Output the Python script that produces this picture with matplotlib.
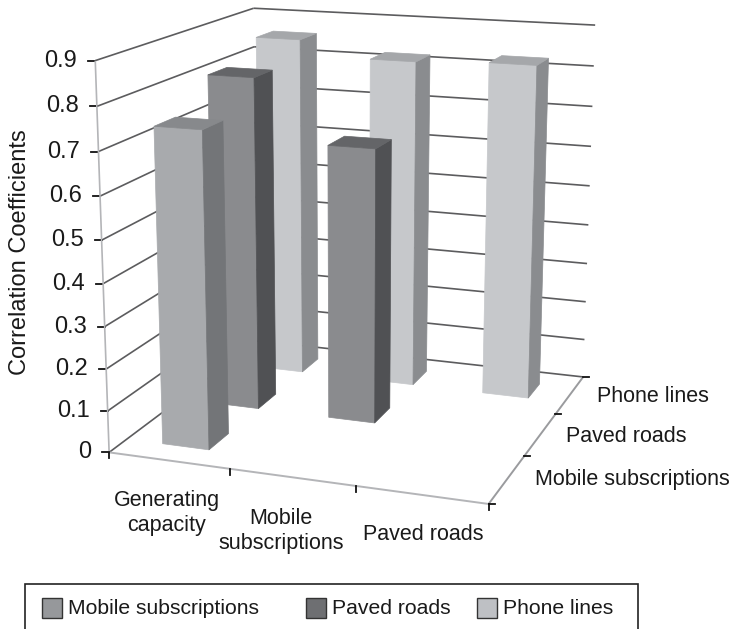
import numpy as np
import matplotlib
matplotlib.use("Agg")
import matplotlib.pyplot as plt
from matplotlib.patches import Polygon, Rectangle

plt.rcParams["font.family"] = ["Liberation Sans", "DejaVu Sans"]

# data
categories = ["Generating\ncapacity", "Mobile\nsubscriptions", "Paved roads"]
series_names = ["Mobile subscriptions", "Paved roads", "Phone lines"]
mobile_values = [0.745, None, None]
paved_values = [0.812, 0.665, None]
phone_values = [0.858, 0.82, 0.828]
z_ticks = [0, 0.1, 0.2, 0.3, 0.4, 0.5, 0.6, 0.7, 0.8, 0.9]
z_labels = ["0", "0.1", "0.2", "0.3", "0.4", "0.5", "0.6", "0.7", "0.8", "0.9"]

# face colours per series: front, side, top
face_colors = [("#a8aaad", "#737578", "#87898c"),
               ("#8a8b8e", "#505154", "#646568"),
               ("#c6c8cb", "#8a8c8f", "#a5a7aa")]
legend_colors = ["#96989b", "#6e6f72", "#bec0c4"]

BAR_W = 0.39
BAR_D = 0.38


# chart cube corners -> pixels, fit a projective camera to them
def fit_camera():
    world = [(0, 0, 0), (3, 0, 0), (3, 3, 0), (0, 3, 0),
             (0, 0, 0.9), (0, 3, 0.9), (3, 3, 0.9)]
    pix = [(109, 452), (489, 504), (583, 377), (258, 341),
           (95, 61), (254, 8), (595, 25)]
    rows, rhs = [], []
    for (x, y, z), (u, v) in zip(world, pix):
        rows.append([x, y, z, 1, 0, 0, 0, 0, -u * x, -u * y, -u * z])
        rows.append([0, 0, 0, 0, x, y, z, 1, -v * x, -v * y, -v * z])
        rhs += [u, v]
    p = np.linalg.lstsq(np.array(rows, float), np.array(rhs, float), rcond=None)[0]
    return np.append(p, 1).reshape(3, 4)


cam = fit_camera()


def proj(x, y, z):
    u, v, w = cam @ np.array([x, y, z, 1.0])
    return u / w, v / w


fig = plt.figure(figsize=(7.31, 6.29), dpi=100)
ax = fig.add_axes([0, 0, 1, 1])
ax.set_xlim(0, 731)
ax.set_ylim(629, 0)
ax.axis("off")


def line3(a, b, **kw):
    pa, pb = proj(*a), proj(*b)
    ax.plot([pa[0], pb[0]], [pa[1], pb[1]], solid_capstyle="butt", **kw)


# grid on the two walls
for z, lab in zip(z_ticks, z_labels):
    line3((0, 0, z), (0, 3, z), color="#5c5c5e", lw=1.2, zorder=1)
    line3((0, 3, z), (3, 3, z), color="#5c5c5e", lw=1.2, zorder=1)
    u, v = proj(0, 0, z)
    ax.plot([u - 7, u], [v, v], color="#111111", lw=1.3, zorder=2)
    ax.text(u - 18, v, lab, ha="right", va="center", fontsize=17, color="#1a1a1a")

# axis edges
line3((0, 0, 0), (0, 0, 0.9), color="#b4b5b8", lw=1.2, zorder=2)
line3((0, 0, 0), (3, 0, 0), color="#b4b5b8", lw=1.4, zorder=2)
line3((3, 0, 0), (3, 3, 0), color="#9a9b9e", lw=1.4, zorder=2)

# category and depth ticks
for i in range(4):
    u, v = proj(i, 0, 0)
    ax.plot([u, u], [v, v + 6], color="#111111", lw=1.3, zorder=3)
    u, v = proj(3, i, 0)
    ax.plot([u, u + 6], [v, v], color="#111111", lw=1.3, zorder=3)


def draw_bar(ix, iy, val, cols):
    x0, x1 = ix + 0.5 - BAR_W / 2, ix + 0.5 + BAR_W / 2
    y0, y1 = iy + 0.5 - BAR_D / 2, iy + 0.5 + BAR_D / 2
    front = [proj(x0, y0, 0), proj(x1, y0, 0), proj(x1, y0, val), proj(x0, y0, val)]
    side = [proj(x1, y0, 0), proj(x1, y1, 0), proj(x1, y1, val), proj(x1, y0, val)]
    top = [proj(x0, y0, val), proj(x1, y0, val), proj(x1, y1, val), proj(x0, y1, val)]
    for pts, col in zip((front, side, top), cols):
        ax.add_patch(Polygon(pts, closed=True, facecolor=col, edgecolor=col, lw=0.5, zorder=4))


# back row first so the front ones cover it
rows = [mobile_values, paved_values, phone_values]
for iy in [2, 1, 0]:
    for ix in [2, 1, 0]:
        if rows[iy][ix] is not None:
            draw_bar(ix, iy, rows[iy][ix], face_colors[iy])

# labels
ax.text(20, 252, "Correlation Coefficients", rotation=90, ha="center", va="center",
        fontsize=17, color="#1a1a1a")
cat_x = [167, 281, 423]
cat_y = [513, 531, 535]
for lab, u, v in zip(categories, cat_x, cat_y):
    ax.text(u, v, lab, ha="center", va="center", fontsize=15.5, color="#1a1a1a", linespacing=1.2)
depth_x = [535, 566, 597]
depth_y = [480, 436, 396]
for lab, u, v in zip(series_names, depth_x, depth_y):
    ax.text(u, v, lab, ha="left", va="center", fontsize=15.5, color="#1a1a1a")

# legend box, cut off by the bottom of the picture
ax.add_patch(Rectangle((25, 584), 613, 60, facecolor="white", edgecolor="#222222", lw=1.2, clip_on=True))
swatch_x = [42, 306, 477]
for name, col, u in zip(series_names, legend_colors, swatch_x):
    ax.add_patch(Rectangle((u, 598), 20, 20, facecolor=col, edgecolor="#333333", lw=1.0, zorder=5))
    ax.text(u + 26, 609, name, ha="left", va="center", fontsize=15.2, color="#1a1a1a")

fig.savefig("out.png", dpi=100)
